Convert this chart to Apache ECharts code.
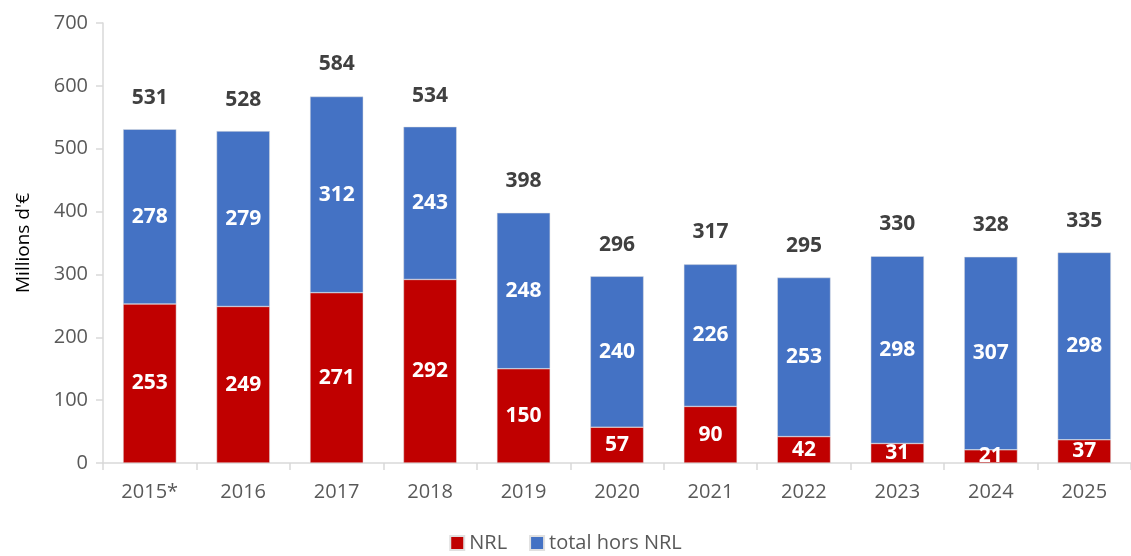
<!DOCTYPE html>
<html lang="fr">
<head>
    <meta charset="UTF-8">
    <title>NRL</title>
    <script src="https://cdn.jsdelivr.net/npm/echarts@6/dist/echarts.min.js"></script>
    <style>
        html, body { margin: 0; padding: 0; background: #fff; }
    </style>
</head>
<body>
<div id="main" style="width: 1131px;height:556px;"></div>
<script type="text/javascript">
    // données
    var years = ['2015*', '2016', '2017', '2018', '2019', '2020', '2021', '2022', '2023', '2024', '2025'];
    var nrl = [253, 249, 271, 292, 150, 57, 90, 42, 31, 21, 37];
    var horsNrl = [278, 279, 312, 243, 248, 240, 226, 253, 298, 307, 298];
    var totals = [531, 528, 584, 534, 398, 296, 317, 295, 330, 328, 335];

    var font = 'Open Sans';
    var innerLabel = {
        show: true,
        position: 'inside',
        color: '#fff',
        fontWeight: 'bold',
        fontSize: 21,
        fontFamily: font
    };

    var option = {
        animation: false,
        grid: { left: 103, top: 23, width: 1034, bottom: 93 },
        legend: {
            data: ['NRL', 'total hors NRL'],
            bottom: -2,
            left: 'center',
            icon: 'rect',
            itemWidth: 14,
            itemHeight: 14,
            itemGap: 22,
            textStyle: { fontSize: 20, color: '#595959', fontFamily: font }
        },
        xAxis: {
            type: 'category',
            data: years,
            axisLine: { lineStyle: { color: '#d9d9d9', width: 1.5 } },
            axisTick: { show: true, length: 7, lineStyle: { color: '#d9d9d9', width: 1.5 } },
            axisLabel: { fontSize: 20, color: '#595959', margin: 19, fontFamily: font }
        },
        yAxis: {
            type: 'value',
            min: 0,
            max: 700,
            interval: 100,
            name: "Millions d'€",
            nameLocation: 'middle',
            nameGap: 70,
            nameTextStyle: { fontSize: 19, color: '#000', fontFamily: font },
            axisLine: { show: true, lineStyle: { color: '#d9d9d9', width: 1.5 } },
            axisTick: { show: true, length: 7, lineStyle: { color: '#d9d9d9', width: 1.5 } },
            splitLine: { show: false },
            axisLabel: { fontSize: 20, color: '#595959', margin: 15, fontFamily: font }
        },
        series: [{
            name: 'NRL',
            type: 'bar',
            stack: 'a',
            barWidth: '57%',
            data: nrl,
            itemStyle: { color: '#C00000', borderColor: '#e0e0e0', borderWidth: 0.5 },
            label: innerLabel
        }, {
            name: 'total hors NRL',
            type: 'bar',
            stack: 'a',
            data: horsNrl,
            itemStyle: { color: '#4472C4', borderColor: '#e0e0e0', borderWidth: 0.5 },
            label: innerLabel
        }, {
            name: 'total',
            type: 'bar',
            barGap: '-100%',
            barWidth: '57%',
            data: totals,
            z: 1,
            itemStyle: { color: 'rgba(0,0,0,0)' },
            label: {
                show: true,
                position: 'top',
                distance: 21,
                color: '#404040',
                fontWeight: 'bold',
                fontSize: 21,
                fontFamily: font
            }
        }]
    };

    var myChart = echarts.init(document.getElementById('main'));
    myChart.setOption(option);
</script>
</body>
</html>
